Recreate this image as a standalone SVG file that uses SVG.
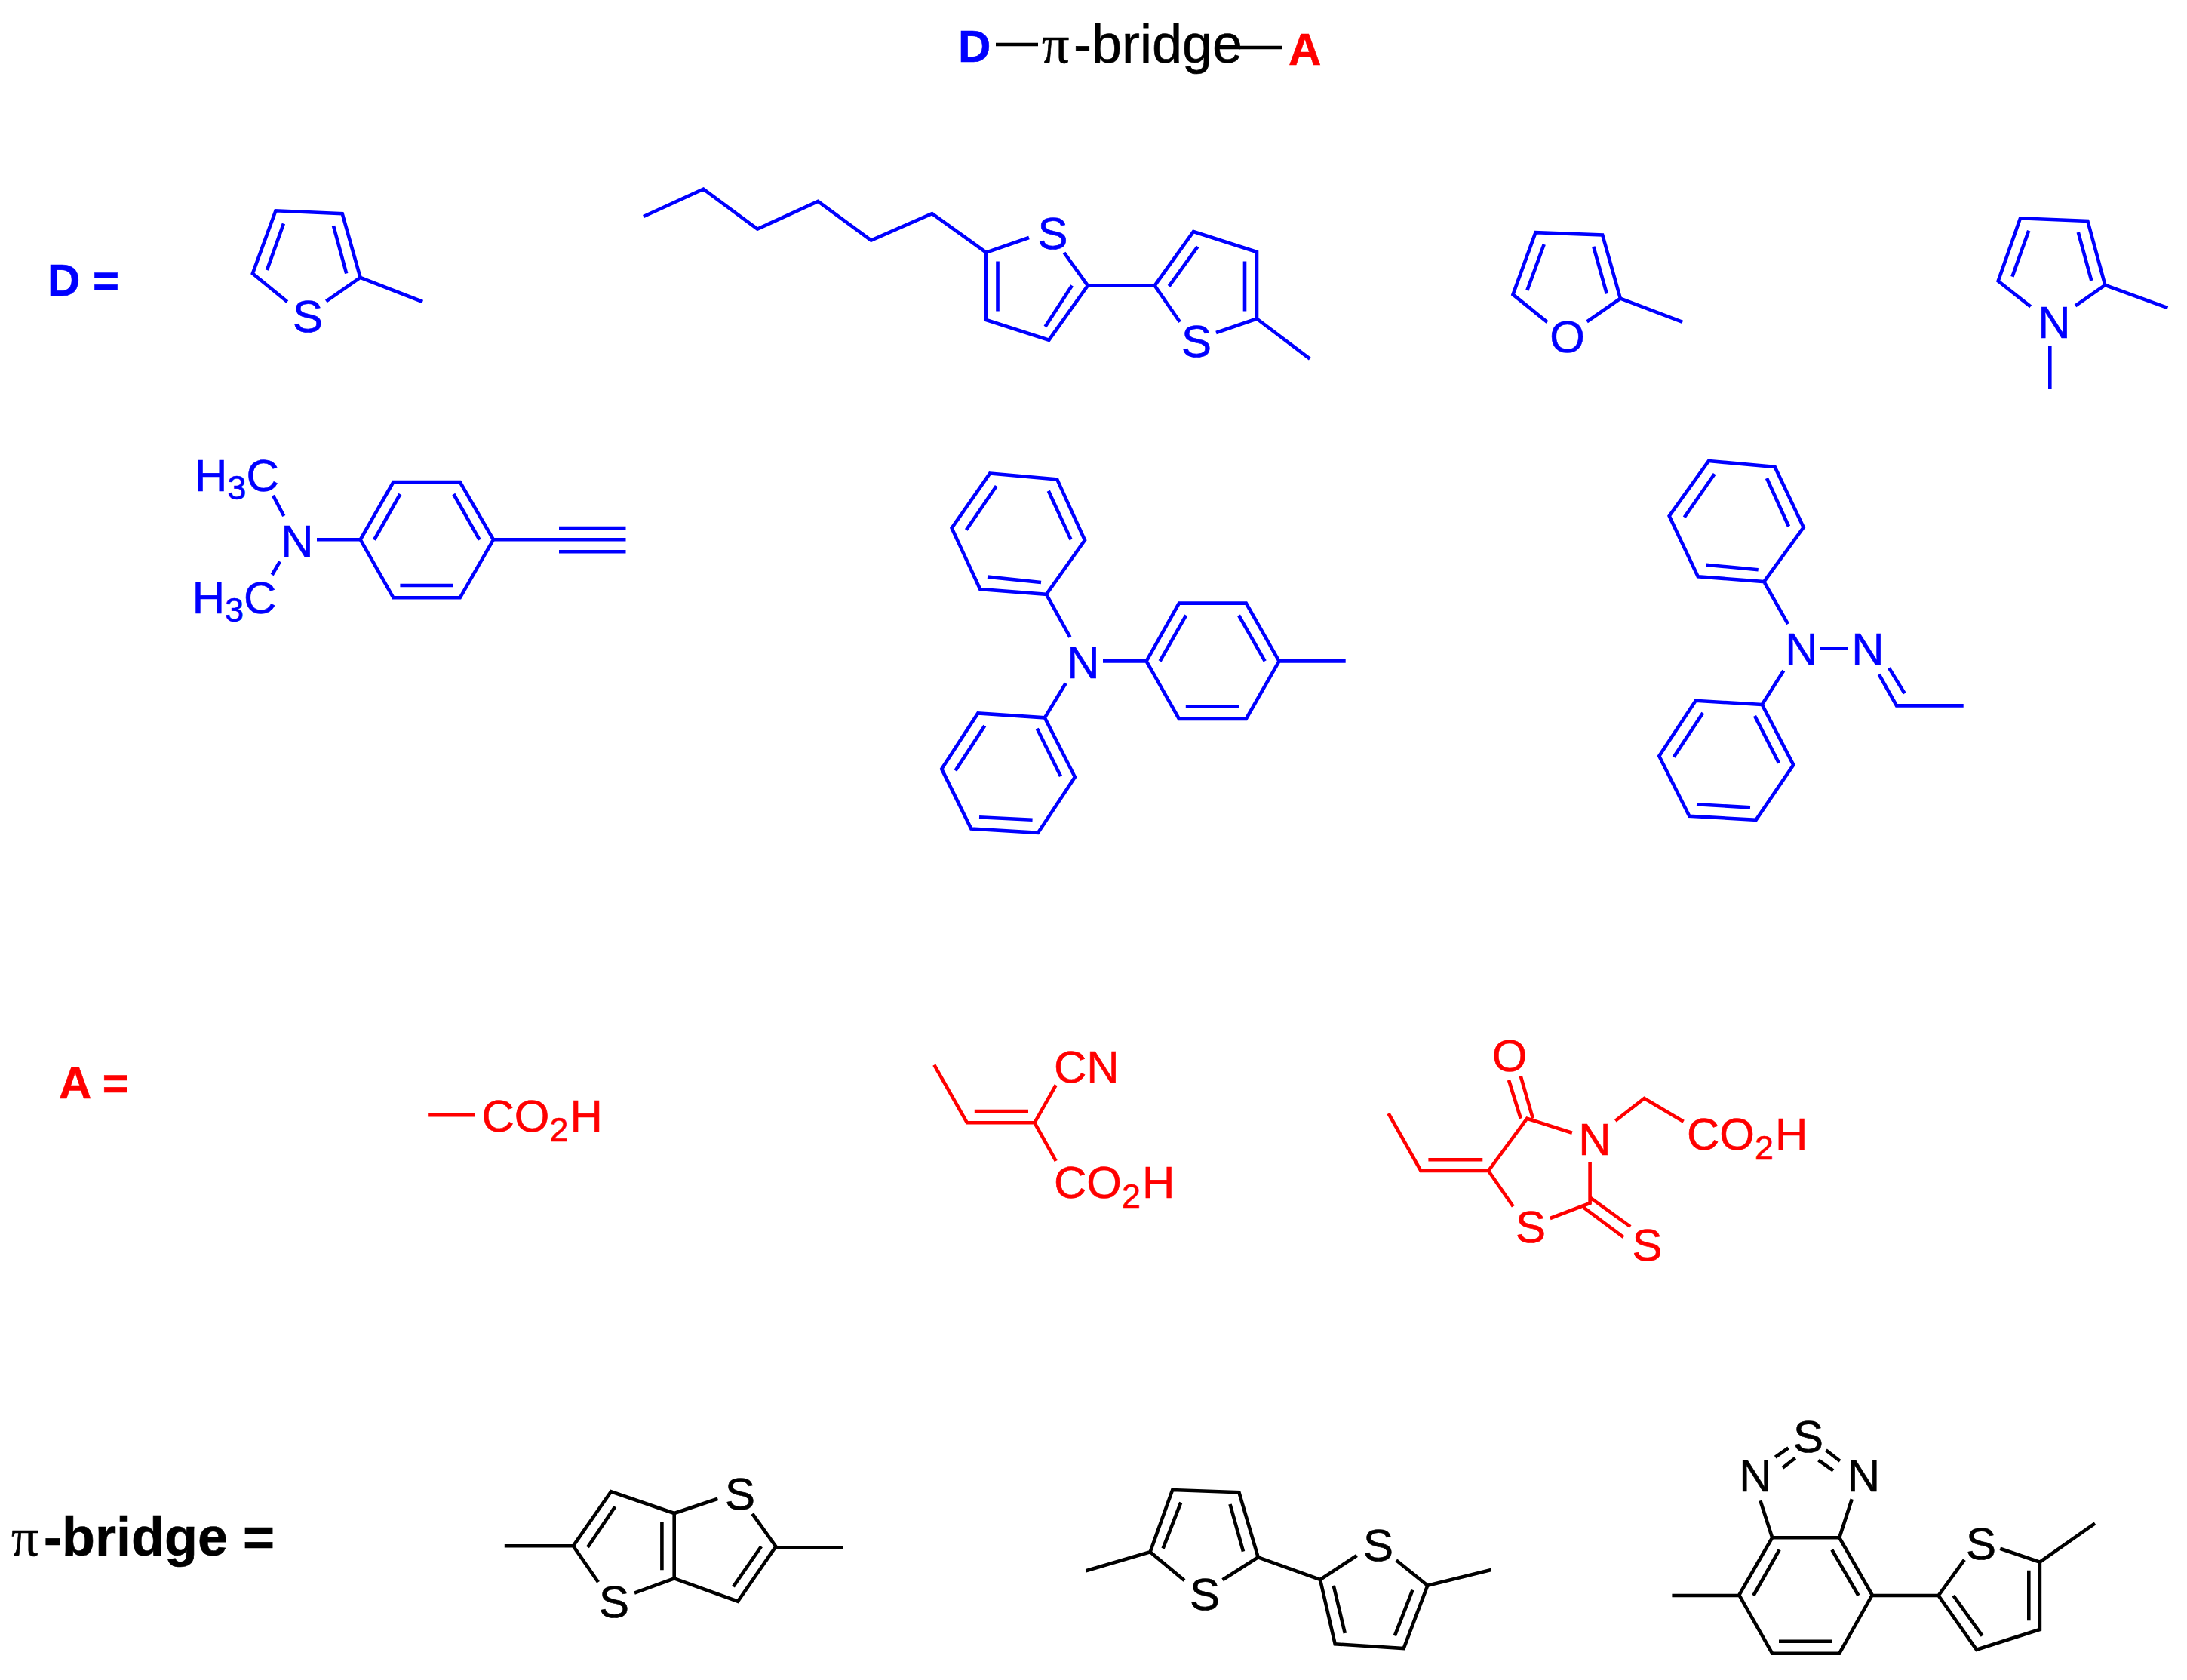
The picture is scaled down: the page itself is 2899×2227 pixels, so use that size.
<svg xmlns="http://www.w3.org/2000/svg" width="2899" height="2227" viewBox="0 0 2899 2227">
<style>
text{font-family:"Liberation Sans",Arial,sans-serif;font-size:60px;stroke-width:.6}
.b{fill:none;stroke-width:4.6;stroke-linejoin:miter;stroke-linecap:butt}
.blue text{fill:#0000ff;stroke:#0000ff}.blue .b{stroke:#0000ff}
.red text{fill:#ff0000;stroke:#ff0000}.red .b{stroke:#ff0000}
.blk text{fill:#000;stroke:#000}.blk .b{stroke:#000}
.c{text-anchor:middle}
.h{font-weight:bold}
.t{font-size:72px}
.p{font-family:"Liberation Serif","Times New Roman",serif;font-size:72px;font-weight:normal}
.s{font-size:45px}
</style>
<rect width="2899" height="2227" fill="#fff"/>
<g id="formula">
<g class="blue"><text class="h" x="1270" y="81.5">D</text></g>
<g class="blk"><path class="b" d="M1320 59H1376M1643 63H1699"/><text class="p" x="1381" y="83">π</text><text class="t" x="1423" y="83">-bridge</text></g>
<g class="red"><text class="h" x="1708" y="85.7">A</text></g>
</g>
<g id="label-d" class="blue"><text class="h" x="63" y="392">D =</text></g>
<g id="label-a" class="red"><text class="h" x="78" y="1455.7">A =</text></g>
<g id="label-bridge" class="blk"><text class="p" x="15" y="2061.7">π</text><text class="t h" x="58" y="2061.7">-bridge =</text></g>

<g class="blue">
<g id="d1-thiophene">
<path class="b" d="M380.8 400L334.9 362.5L365.5 279.3L453.7 283.2L477.6 367.9L432.3 399.3M477.6 367.9L560.2 400M375.9 296.4L353.9 357.9M442 299.3L459.2 362.5"/>
<text class="c" x="408" y="440">S</text>
</g>
<g id="d2-hexylbithiophene">
<path class="b" d="M853 287L932.4 250.7L1004 303.6L1084.3 267L1154.7 318.6L1235.5 283.2L1307.2 334.6L1364 315M1410.6 335L1441.9 378.6L1390.4 450.7L1307.2 424L1307.2 334.6M1322.5 346.4V412.5M1421 378.6L1385.5 432.9M1441.9 378.6H1530.6M1564 426.8L1530.6 378.6L1582 307L1666 334V422.5L1612 441M1666 422.5L1736.3 475.7M1587.6 326.8L1549.6 379.3M1650 346.4V412.5"/>
<text class="c" x="1395.6" y="330">S</text><text class="c" x="1586" y="473">S</text>
</g>
<g id="d3-furan">
<path class="b" d="M2051 427L2005.5 390.4L2035.5 308.2L2124.2 311.4L2147.9 395.7L2103.6 426.4M2147.9 395.7L2230.3 426.8M2046.7 324L2024.3 385M2112.3 326.8L2129.8 389.3"/>
<text class="c" x="2077.7" y="467">O</text>
</g>
<g id="d4-pyrrole">
<path class="b" d="M2691.7 406.4L2648.7 372.5L2678 289.3L2767.3 292.9L2790.4 377.9L2751 405.4M2790.4 377.9L2873.4 408.2M2717.3 457.9V516M2689.2 305.7L2667.4 366.8M2754.8 307.9L2772.3 372"/>
<text class="c" x="2723" y="448">N</text>
</g>
<g id="d5-dimethylaminophenylethynyl">
<path class="b" d="M521.4 639H609.8L654 715.3L609.8 792.3H521.4L477.7 715.3ZM530.4 655L496 715.7M601.3 655L635.7 715.7M530.4 776H600.4M420 715.3H477.7M654 715.3H829.5M741 700H829.5M741 731.3H829.5M362 656.7L376.3 684M371 744.3L360.7 762"/>
<text class="c" x="394" y="737.7">N</text>
<text x="258" y="650.7">H<tspan class="s" dy="11">3</tspan><tspan dy="-11">C</tspan></text>
<text x="254.7" y="812.7">H<tspan class="s" dy="11">3</tspan><tspan dy="-11">C</tspan></text>
</g>
<g id="d6-triphenylamine">
<path class="b" d="M1312.2 627.5L1401.2 635.4L1438 716L1387 787.9L1299.2 781L1261.6 700ZM1320.8 644.3L1280.8 702.5M1389.8 650.7L1419.6 715.4M1309 764.6L1380 772M1387 787.9L1418.4 844.6M1462 876.4H1519.6M1519.6 876.4L1562.9 799.6H1651.8L1695.5 876.4L1651.8 952.9H1562.9ZM1572.2 815.7L1537.6 876.4M1642 815.7L1676.7 876.4M1571.8 936.8H1642.9M1695.5 876.4H1783.7M1412.7 905.7L1384.9 951.4M1384.9 951.4L1296.3 945.4L1248.2 1019.3L1287.3 1098.6L1375.9 1103.9L1424.9 1030ZM1305.3 962.1L1266.5 1021.4M1374.7 965.7L1406 1029M1298 1083.2L1368.6 1086.8"/>
<text class="c" x="1436" y="898.6">N</text>
</g>
<g id="d7-hydrazone">
<path class="b" d="M2265 611L2352.7 618.9L2390.7 699.1L2338.3 771.1L2250.7 764.2L2212.7 684ZM2272.7 628.2L2232.7 685.7M2342 634L2371 697.8M2261.3 748.7L2330.7 755.3M2338.3 771.1L2370 827.2M2413 859.3H2449M2364.3 888.9L2335.7 934M2335.7 934L2247.7 928.8L2199.3 1002.2L2239.3 1081.7L2327.7 1086.9L2377.3 1013.9ZM2257.3 945L2218.7 1003.6M2326 949L2358 1011.5M2249 1066.2L2320 1070.4M2490.7 894L2514 935.4H2602.7M2504 885.4L2524.7 919.2"/>
<text class="c" x="2388" y="881.3">N</text><text class="c" x="2476" y="881.3">N</text>
</g>
</g>

<g class="red">
<g id="a1-carboxyl">
<path class="b" d="M568.2 1478.3H630"/>
<text x="638.5" y="1500">CO<tspan class="s" dy="13">2</tspan><tspan dx="2" dy="-13">H</tspan></text>
</g>
<g id="a2-cyanoacrylic">
<path class="b" d="M1238.3 1411.7L1281.9 1488.3H1371.4L1399.7 1438.3M1371.4 1488.3L1399.7 1539M1291.8 1473H1363"/>
<text x="1397" y="1434.7">CN</text>
<text x="1397" y="1587.7">CO<tspan class="s" dy="13">2</tspan><tspan dx="2" dy="-13">H</tspan></text>
</g>
<g id="a3-rhodanine">
<path class="b" d="M1840.5 1476L1883.4 1552H1973L2024.2 1482.7L2083.9 1501.7M1893.4 1537.3H1965.3M2015.8 1426.7L2031.9 1482.7M2000 1431.7L2015.8 1482.7M2141.3 1485.7L2179.6 1456L2231.6 1486.7M2107.6 1540V1595L2054.8 1615M1973 1552L2005.8 1599.3M2107.6 1587.3L2161.2 1626M2099.2 1600.7L2152 1640"/>
<text class="c" x="2001" y="1419.5">O</text>
<text class="c" x="2114" y="1530.7">N</text>
<text class="c" x="2029" y="1646.7">S</text>
<text class="c" x="2183.4" y="1671">S</text>
<text x="2236" y="1523.7">CO<tspan class="s" dy="13">2</tspan><tspan dx="2" dy="-13">H</tspan></text>
</g>
</g>

<g class="blk">
<g id="b1-thienothiophene">
<path class="b" d="M668.8 2049.3H759.8L810 1977.3L893.7 2006V2092.3L841 2111.7M759.8 2049.3L793 2097.3M815.3 1997.3L779 2051M877.4 2017.7V2081.3M893.7 2006L951.4 1986.7M997.3 2006.7L1028.4 2050L978 2122.7L893.7 2092.3M1028.4 2051.3H1117M1009 2050L972 2103.3"/>
<text class="c" x="814" y="2143.7">S</text><text class="c" x="981" y="2001.3">S</text>
</g>
<g id="b2-bithiophene">
<path class="b" d="M1439.5 2082.3L1524.6 2057.3L1554.2 1975L1642.4 1978.3L1667.7 2064.3L1620.6 2094.3M1524.6 2057.3L1570 2095M1565.3 1991.7L1541.6 2052.7M1630.5 1994L1648 2056.7M1667.7 2064.3L1750 2094L1798.6 2062M1750 2094L1769.7 2179.3L1860.7 2185L1892.3 2101.7L1850.8 2068.3M1892.3 2101.7L1976.5 2081M1767.7 2101.7L1782.8 2165M1872.5 2107.7L1848.8 2168.3"/>
<text class="c" x="1597" y="2134.3">S</text><text class="c" x="1827" y="2068.7">S</text>
</g>
<g id="b3-benzothiadiazole">
<path class="b" d="M2370.6 1919.3L2353.2 1931.7M2379.7 1932.7L2363 1945.7M2420.4 1922.3L2439 1936.7M2410.5 1935.7L2430 1949.3M2333.4 1989.3L2349.2 2038.3M2454.8 1987.3L2438.2 2038.3M2349.2 2038.3H2438.2L2481.7 2114.3L2438.2 2191.7H2349.2L2305.3 2114.3ZM2358.7 2054.3L2324.3 2115M2428.3 2054.3L2463.5 2115M2358 2175.7H2429M2216.4 2115H2305.3M2481.7 2115H2569.5L2603.9 2067.7M2651.3 2052.7L2703.9 2070.7L2777 2019.3M2703.9 2070.7V2160L2620 2186.7L2569.5 2115M2689.3 2081.7V2148.3M2589.3 2115L2627.6 2168.3"/>
<text class="c" x="2397" y="1925.3">S</text><text class="c" x="2327" y="1977.3">N</text><text class="c" x="2470.5" y="1977.3">N</text><text class="c" x="2626" y="2066.7">S</text>
</g>
</g>
</svg>
